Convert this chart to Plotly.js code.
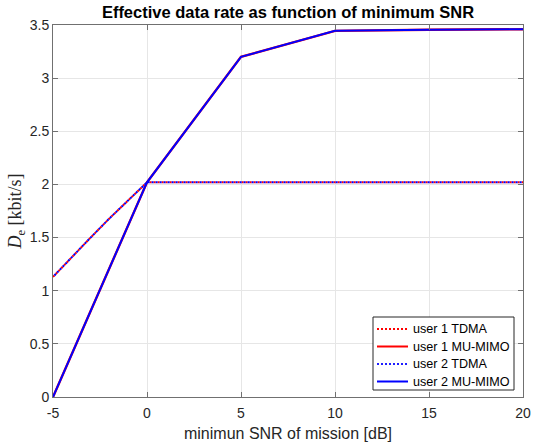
<!DOCTYPE html>
<html>
<head>
<meta charset="utf-8">
<script src="https://cdn.plot.ly/plotly-3.0.1.min.js"></script>
<style>html,body{margin:0;padding:0;background:#fff;}#plot{width:533px;height:442px;}</style>
</head>
<body>
<div id="plot"></div>
<script>
// Data
const snrTdma = [-5, -4, -3, -2, -1, 0, 5, 10, 15, 20];
const user1Tdma = [1.13, 1.32, 1.50, 1.68, 1.85, 2.02, 2.02, 2.02, 2.02, 2.02];
const user2Tdma = [1.13, 1.32, 1.50, 1.68, 1.85, 2.02, 2.02, 2.02, 2.02, 2.02];
const snrMimo = [-5, 0, 5, 10, 15, 20];
const user1Mimo = [0, 2.02, 3.20, 3.445, 3.455, 3.46];
const user2Mimo = [0, 2.02, 3.20, 3.445, 3.455, 3.46];
const seriesNames = ['user 1 TDMA', 'user 1 MU-MIMO', 'user 2 TDMA', 'user 2 MU-MIMO'];
const xTicks = [-5, 0, 5, 10, 15, 20];
const yTicks = [0, 0.5, 1, 1.5, 2, 2.5, 3, 3.5];

const seriesLines = [
  {color: '#ff0000', width: 2, dash: '2px,2px'},
  {color: '#ff0000', width: 2.4, dash: 'solid'},
  {color: '#0000ff', width: 2, dash: '0px,2px,2px,0px'},
  {color: '#0000ff', width: 2, dash: 'solid'}
];
const legendDash = ['2px,2px', 'solid', '2px,2px', 'solid'];
const legendColor = ['#ff0000', '#ff0000', '#1f1fff', '#0000ff'];
const seriesX = [snrTdma, snrMimo, snrTdma, snrMimo];
const seriesY = [user1Tdma, user1Mimo, user2Tdma, user2Mimo];

const traces = seriesNames.map((n, i) => ({
  x: seriesX[i], y: seriesY[i], name: n, mode: 'lines', line: seriesLines[i], showlegend: false
}));

// Legend drawn in paper coordinates (MATLAB-like compact box)
const W = 533, H = 442, mL = 53, mR = 10, mT = 25, mB = 45;
const pw = W - mL - mR, ph = H - mT - mB;
const px = v => (v - mL) / pw;
const py = v => (H - mB - v) / ph;
const legBox = {x0: 373, x1: 514, y0: 317, y1: 390};
const rowY = [329, 346.5, 364, 381.5];
const shapes = [{
  type: 'rect', xref: 'paper', yref: 'paper',
  x0: px(legBox.x0), x1: px(legBox.x1), y0: py(legBox.y1), y1: py(legBox.y0),
  fillcolor: '#ffffff', line: {color: '#262626', width: 1}, layer: 'above'
}];
const annotations = [];
seriesNames.forEach((n, i) => {
  shapes.push({
    type: 'line', xref: 'paper', yref: 'paper',
    x0: px(377), x1: px(408), y0: py(rowY[i]), y1: py(rowY[i]),
    line: {color: legendColor[i], width: 2, dash: legendDash[i]}, layer: 'above'
  });
  annotations.push({
    xref: 'paper', yref: 'paper', x: px(411), y: py(rowY[i]),
    xanchor: 'left', yanchor: 'middle', showarrow: false, text: n,
    font: {family: 'Liberation Sans, Arial, sans-serif', size: 12.6, color: '#000000'}
  });
});

const axisCommon = {
  showline: true, linecolor: '#707070', linewidth: 1, mirror: 'allticks',
  ticks: 'inside', ticklen: 5, tickcolor: '#707070',
  showgrid: true, gridcolor: '#e6e6e6', gridwidth: 1, zeroline: false,
  tickfont: {family: 'Liberation Sans, Arial, sans-serif', size: 14, color: '#262626'}
};

const layout = {
  width: W, height: H,
  margin: {l: mL, r: mR, t: mT, b: mB},
  paper_bgcolor: '#ffffff', plot_bgcolor: '#ffffff',
  title: {
    text: '<b>Effective data rate as function of minimum SNR</b>',
    font: {family: 'Liberation Sans, Arial, sans-serif', size: 16.5, color: '#000000'},
    xref: 'paper', x: 0.5, xanchor: 'center',
    yref: 'container', y: 1 - 12/442, yanchor: 'middle'
  },
  xaxis: Object.assign({}, axisCommon, {
    range: [-5, 20], tickvals: xTicks, ticktext: xTicks.map(String),
    ticklabelstandoff: 3,
    title: {text: 'minimun SNR of mission [dB]', standoff: 9,
      font: {family: 'Liberation Sans, Arial, sans-serif', size: 16, color: '#262626'}}
  }),
  yaxis: Object.assign({}, axisCommon, {
    range: [0, 3.5], tickvals: yTicks, ticktext: yTicks.map(String),
    title: {text: '<i>D</i><sub>e</sub> [kbit/s]', standoff: 3,
      font: {family: 'Liberation Serif, DejaVu Serif, serif', size: 18, color: '#262626'}}
  }),
  showlegend: false,
  shapes: shapes,
  annotations: annotations
};

Plotly.newPlot('plot', traces, layout, {staticPlot: true, displayModeBar: false});
</script>
</body>
</html>
